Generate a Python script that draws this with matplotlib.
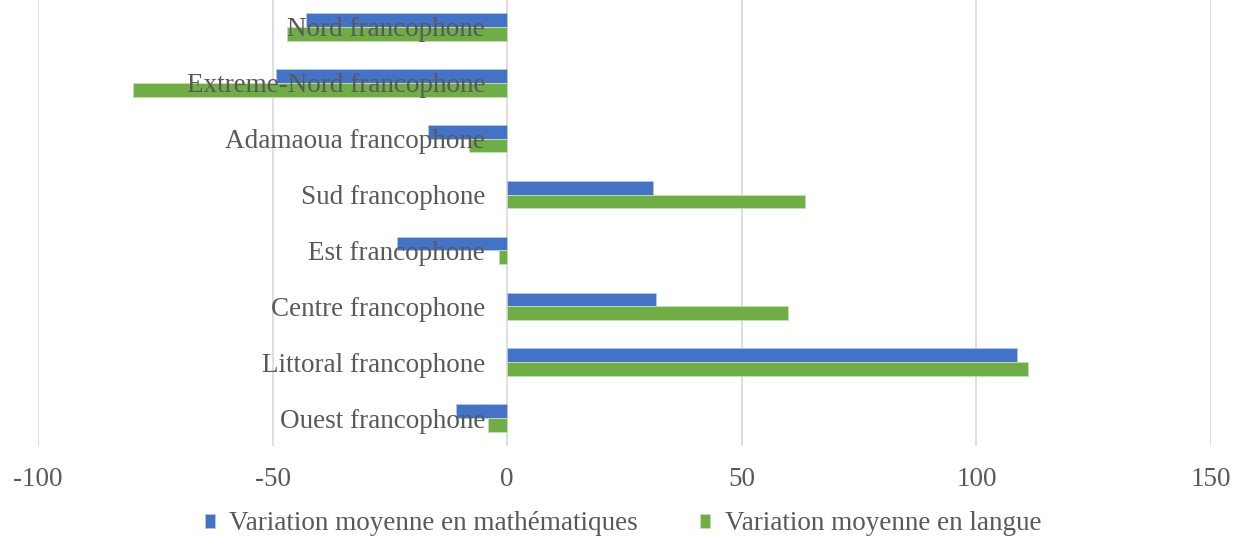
import matplotlib.pyplot as plt
import numpy as np

regions = ["Nord francophone", "Extreme-Nord francophone", "Adamaoua francophone",
           "Sud francophone", "Est francophone", "Centre francophone",
           "Littoral francophone", "Ouest francophone"]
maths = [-42.8, -49.2, -16.9, 31.1, -23.4, 31.8, 108.7, -10.9]
langue = [-46.9, -79.7, -8.1, 63.5, -1.7, 59.9, 111.0, -4.0]

plt.rcParams['font.family'] = ['Liberation Serif', 'DejaVu Serif']
grey = '#595959'

fig = plt.figure(figsize=(12.34, 5.36), dpi=100)
ax = fig.add_axes([38 / 1234, 1 - 446 / 536, (1211 - 38) / 1234, 447 / 536])

y = np.arange(len(regions))
h = 0.245
ax.barh(y - h / 2, maths, height=h, color='#4472C4', edgecolor='#b4c7e7', linewidth=0.6,
        label='Variation moyenne en mathématiques', zorder=3)
ax.barh(y + h / 2, langue, height=h, color='#70AD47', edgecolor='#c5e0b4', linewidth=0.6,
        label='Variation moyenne en langue', zorder=3)

ax.set_xlim(-100, 150)
ax.set_ylim(len(regions) - 0.5, -0.5)
ax.set_xticks([-100, -50, 0, 50, 100, 150])
ax.set_xticklabels(['-100', '-50', '0', '50', '100', '150'])
ax.set_yticks([])
ax.grid(axis='x', color='#d9d9d9', linewidth=1.2, zorder=0)
for s in ax.spines.values():
    s.set_visible(False)
ax.tick_params(axis='x', length=0, pad=15, labelsize=19.5, labelcolor=grey)

# category labels sit next to the zero axis, over the bars
for i, name in enumerate(regions):
    ax.annotate(name, xy=(0, i), xytext=(-22, -3), textcoords='offset pixels',
                ha='right', va='center', fontsize=19.5, color=grey, zorder=6,
                annotation_clip=False)

fig.legend(loc='center', bbox_to_anchor=(0.505, 1 - 524 / 536), ncol=2, frameon=False,
           fontsize=19.5, handlelength=0.36, handleheight=0.45, handletextpad=0.55,
           columnspacing=2.3, labelcolor=grey)

fig.savefig('out.png', dpi=100)
